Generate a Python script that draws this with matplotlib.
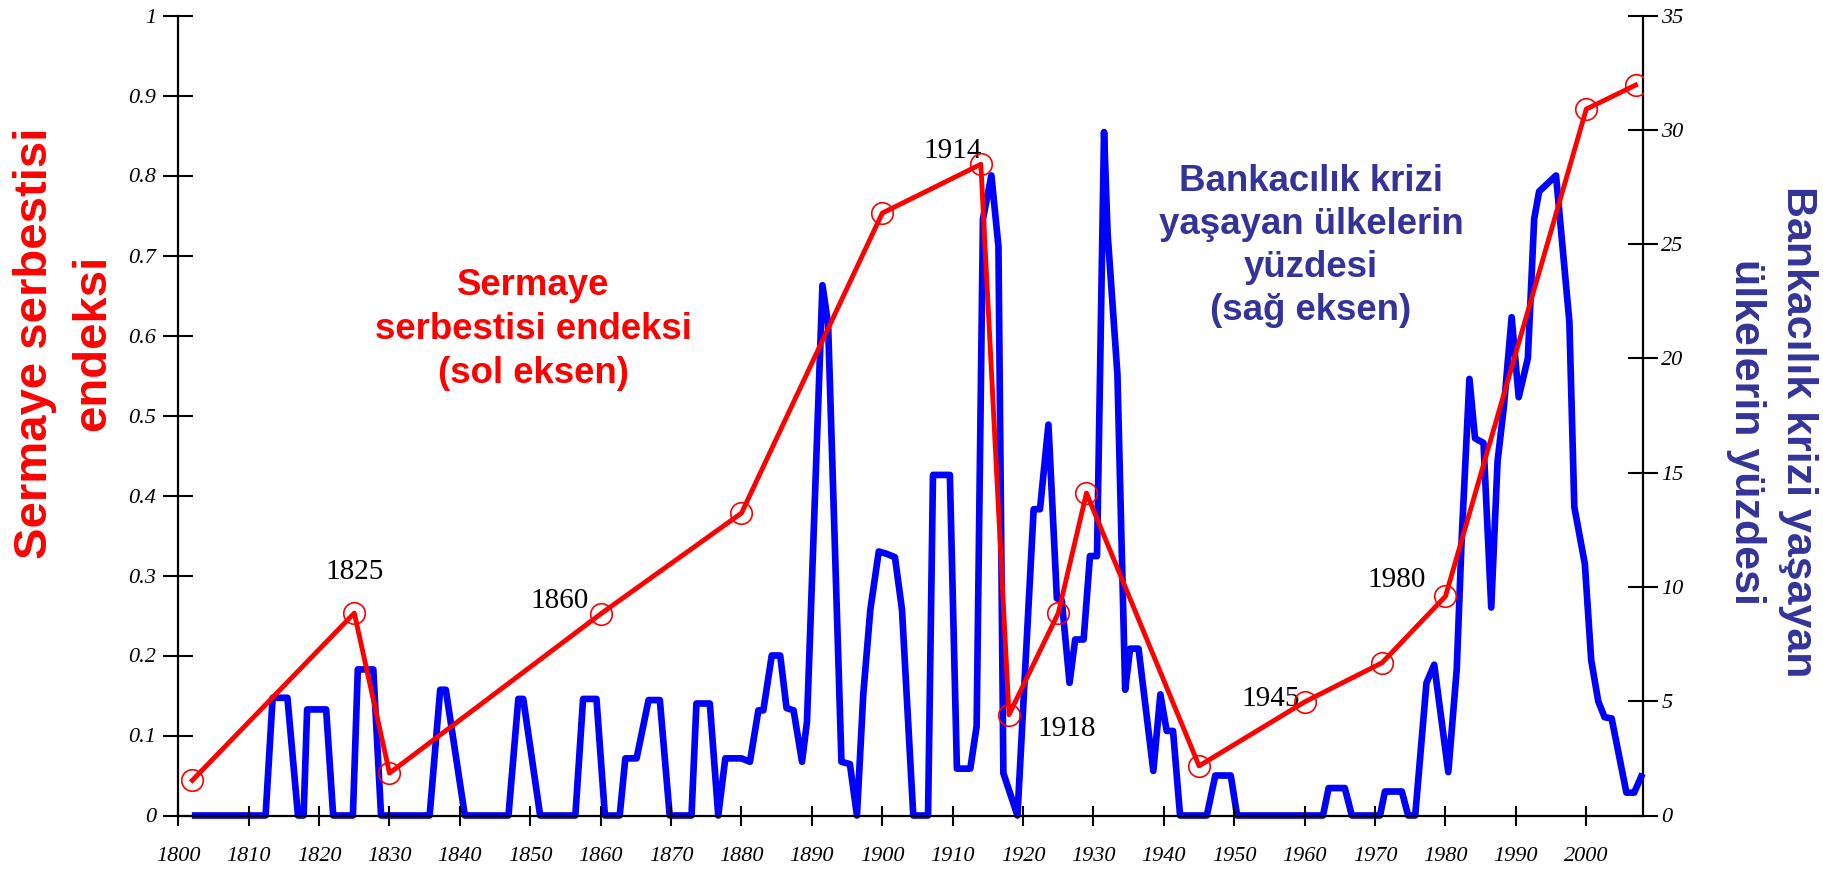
import matplotlib
matplotlib.use("Agg")
import matplotlib.pyplot as plt

# capital mobility index (left axis)
cap_years = [1802, 1825, 1830, 1860, 1880, 1900, 1914, 1918, 1925, 1929,
             1945, 1960, 1971, 1980, 2000, 2007]
cap_index = [0.044, 0.253, 0.053, 0.252, 0.378, 0.753, 0.814, 0.126, 0.253, 0.403,
             0.062, 0.142, 0.191, 0.274, 0.883, 0.913]

# share of countries in banking crisis, % (right axis)
crisis_years = [1802.4, 1812.4, 1813.4, 1815.5, 1817.0, 1817.8, 1818.3, 1821.0, 1822.0, 1824.8,
                1825.5, 1827.7, 1828.8, 1835.7, 1837.2, 1838.0, 1840.7, 1846.9, 1848.3, 1849.0,
                1851.4, 1856.4, 1857.5, 1859.4, 1860.6, 1862.7, 1863.5, 1865.1, 1866.8, 1868.4,
                1869.8, 1872.9, 1873.6, 1875.5, 1876.7, 1877.7, 1880.0, 1881.2, 1882.4, 1883.1,
                1884.3, 1885.5, 1886.4, 1887.4, 1888.6, 1889.3, 1891.5, 1892.3, 1894.2, 1895.4,
                1896.4, 1897.3, 1898.3, 1899.5, 1900.6, 1901.8, 1902.8, 1904.4, 1906.5, 1907.2,
                1909.6, 1910.6, 1912.5, 1913.4, 1914.3, 1915.5, 1916.5, 1917.2, 1919.2, 1921.5,
                1922.4, 1923.6, 1924.8, 1925.5, 1926.6, 1927.4, 1928.6, 1929.5, 1930.5, 1931.5,
                1932.0, 1933.4, 1934.5, 1935.2, 1936.4, 1938.5, 1939.5, 1940.4, 1941.3, 1942.3,
                1946.1, 1947.3, 1949.5, 1950.4, 1962.6, 1963.4, 1965.7, 1966.7, 1970.7, 1971.4,
                1973.8, 1974.7, 1975.7, 1977.3, 1978.4, 1980.4, 1981.6, 1982.3, 1983.4, 1984.2,
                1985.4, 1986.5, 1987.4, 1988.3, 1989.4, 1990.4, 1991.7, 1992.6, 1993.3, 1995.7,
                1997.6, 1998.3, 1999.8, 2000.7, 2001.7, 2002.6, 2003.6, 2005.7, 2006.8, 2007.8]
crisis_pct = [0, 0, 5.15, 5.15, 0, 0, 4.64, 4.64, 0, 0,
              6.39, 6.39, 0, 0, 5.5, 5.5, 0, 0, 5.1, 5.1,
              0, 0, 5.1, 5.1, 0, 0, 2.5, 2.5, 5.05, 5.05,
              0, 0, 4.9, 4.9, 0, 2.5, 2.5, 2.35, 4.6, 4.6,
              7.0, 7.0, 4.7, 4.6, 2.35, 4.1, 23.2, 21.5, 2.35, 2.25,
              0, 5.3, 9.0, 11.55, 11.45, 11.3, 9.0, 0, 0, 14.9,
              14.9, 2.05, 2.05, 3.9, 26.1, 28.0, 24.9, 1.85, 0, 13.4,
              13.4, 17.1, 9.5, 9.4, 5.8, 7.7, 7.7, 11.35, 11.35, 29.9,
              25.5, 19.3, 5.5, 7.3, 7.3, 1.95, 5.3, 3.7, 3.7, 0,
              0, 1.75, 1.75, 0, 0, 1.2, 1.2, 0, 0, 1.05,
              1.05, 0, 0, 5.8, 6.6, 1.9, 6.4, 12.1, 19.1, 16.5,
              16.3, 9.1, 15.5, 17.9, 21.8, 18.3, 20.0, 26.1, 27.3, 28.0,
              21.6, 13.5, 11.0, 6.8, 5.0, 4.3, 4.25, 1.0, 1.0, 1.7]

year_ticks = list(range(1800, 2001, 10))
left_ticks = [0, 0.1, 0.2, 0.3, 0.4, 0.5, 0.6, 0.7, 0.8, 0.9, 1]
left_labels = ["0", "0.1", "0.2", "0.3", "0.4", "0.5", "0.6", "0.7", "0.8", "0.9", "1"]
right_ticks = [0, 5, 10, 15, 20, 25, 30, 35]

# year labels next to some points: (text, x, y) in data coords
point_notes = [("1825", 1825.0, 0.304), ("1860", 1854.2, 0.268), ("1914", 1910.0, 0.831),
               ("1918", 1926.2, 0.108), ("1945", 1955.2, 0.146), ("1980", 1973.0, 0.294)]

W, H = 1823, 875
fig = plt.figure(figsize=(W / 100, H / 100), dpi=100)
ax = fig.add_axes([178.3 / W, 1 - 815.5 / H, (1643.3 - 178.3) / W, 800 / H])
ax2 = ax.twinx()

ax2.plot(crisis_years, crisis_pct, color="#0000ff", lw=4.8, clip_on=False,
         solid_joinstyle="round", zorder=3)
ax.plot(cap_years, cap_index, color="#ff0000", lw=3.5, marker="o", ms=15.5,
        mfc="none", mec="#ff0000", mew=1.2, zorder=4)

ax.set_zorder(ax2.get_zorder() + 1)
ax.patch.set_visible(False)

ax.set_xlim(1800, 2008.1)
ax.set_ylim(0, 1)
ax2.set_ylim(0, 35)

tick_font = dict(family="Liberation Serif", style="italic", size=16)
ax.set_xticks(year_ticks, [str(y) for y in year_ticks], **tick_font)
ax.set_yticks(left_ticks, left_labels, **tick_font)
ax2.set_yticks(right_ticks, [str(t) for t in right_ticks], **tick_font)

ax.tick_params(axis="x", direction="inout", length=14, width=1.5, pad=16)
ax.tick_params(axis="y", direction="inout", length=22, width=1.5, pad=5)
ax2.tick_params(axis="y", direction="inout", length=22, width=1.5, pad=2)

for a in (ax, ax2):
    a.spines["top"].set_visible(False)
    for s in a.spines.values():
        s.set_linewidth(1.6)
ax.spines["right"].set_visible(False)
ax2.spines["left"].set_visible(False)
ax2.spines["bottom"].set_visible(False)

for txt, x, y in point_notes:
    ax.text(x, y, txt, family="Liberation Serif", size=21, ha="center", va="center")

fig.text(533 / W, 1 - 329.6 / H, "Sermaye\nserbestisi endeksi\n(sol eksen)",
         color="#ff0000", family="Liberation Sans", weight="bold", size=26.4,
         ha="center", va="center", multialignment="center", linespacing=1.33)
fig.text(1311 / W, 1 - 245.8 / H, "Bankacılık krizi\nyaşayan ülkelerin\nyüzdesi\n(sağ eksen)",
         color="#333399", family="Liberation Sans", weight="bold", size=26.4,
         ha="center", va="center", multialignment="center", linespacing=1.3)

fig.text(64 / W, 1 - 343 / H, "Sermaye serbestisi\nendeksi", rotation=90,
         color="#ff0000", family="Liberation Sans", weight="bold", size=34,
         ha="center", va="center", multialignment="center", linespacing=1.4)
fig.text(1772 / W, 1 - 432 / H, "Bankacılık krizi yaşayan\nülkelerin yüzdesi", rotation=270,
         color="#333399", family="Liberation Sans", weight="bold",
         size=31, ha="center", va="center", multialignment="center", linespacing=1.38)

fig.savefig("out.png", dpi=100)
